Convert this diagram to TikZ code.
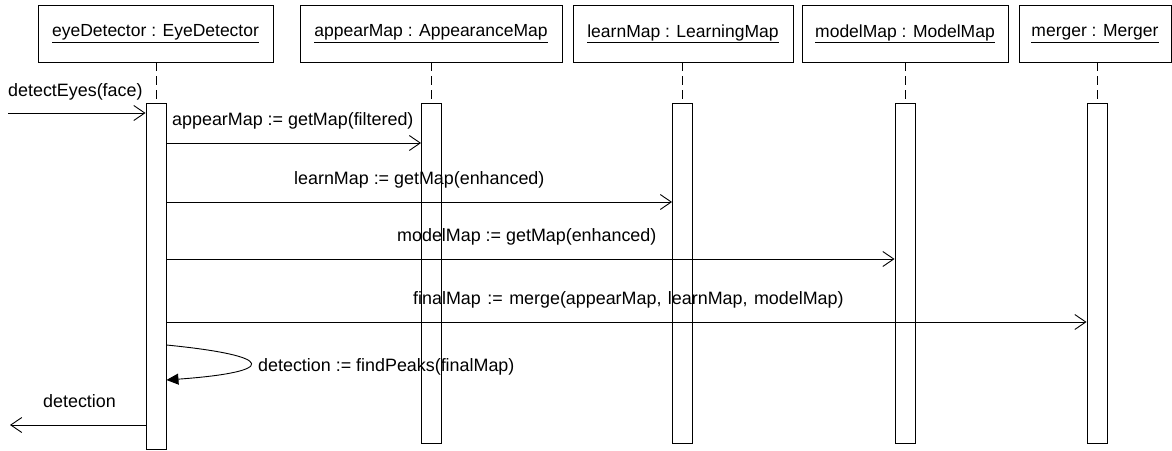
\documentclass[tikz,border=0pt]{standalone}
\usepackage{fontspec}
\setmainfont{Liberation Sans}
\usetikzlibrary{arrows.meta}
\tikzset{
  obj/.style={draw, line width=0.9pt, minimum height=57pt, inner sep=0pt, font=\fontsize{17.5}{21}\selectfont},
  act/.style={draw, fill=white, line width=0.9pt, minimum width=20pt, inner sep=0pt},
  lifeline/.style={line width=0.9pt, dash pattern=on 9pt off 5pt},
  msg/.style={line width=0.9pt, -{Straight Barb[length=11pt,width=15pt,line width=0.9pt]}},
  selfmsg/.style={line width=0.9pt, -{Triangle[length=12pt,width=11pt]}},
  lbl/.style={anchor=base west, inner sep=0pt, font=\fontsize{17.9}{21}\selectfont}
}
\begin{document}
\begin{tikzpicture}[x=1pt,y=-1pt]
\useasboundingbox (0,0) rectangle (1172,450);
% object boxes
\node[obj, minimum width=235pt] (o1) at (155.5,33.5) {\underline{eyeDetector : EyeDetector}};
\node[obj, minimum width=262pt] (o2) at (431,33.5) {\underline{appearMap : AppearanceMap}};
\node[obj, minimum width=220pt] (o3) at (683,33.5) {\underline{learnMap : LearningMap}};
\node[obj, minimum width=206pt] (o4) at (905,33.5) {\underline{modelMap : ModelMap}};
\node[obj, minimum width=152pt] (o5) at (1095,33.5) {\underline{merger : Merger}};
% activations
\node[act, minimum height=346pt] (a1) at (156,276) {};
\node[act, minimum height=340pt] (a2) at (431.5,273) {};
\node[act, minimum height=340pt] (a3) at (682.5,273) {};
\node[act, minimum height=340pt] (a4) at (905,273) {};
\node[act, minimum height=340pt] (a5) at (1097,273) {};
% lifelines
\draw[lifeline] (a1.north |- o1.south) -- (a1.north);
\draw[lifeline] (a2.north |- o2.south) -- (a2.north);
\draw[lifeline] (a3.north |- o3.south) -- (a3.north);
\draw[lifeline] (a4.north |- o4.south) -- (a4.north);
\draw[lifeline] (a5.north |- o5.south) -- (a5.north);
% message levels
\coordinate (in) at (8,113);
\coordinate (y1) at (0,143);
\coordinate (y2) at (0,202);
\coordinate (y3) at (0,259);
\coordinate (y4) at (0,322);
\coordinate (out) at (10,425);
\coordinate (s1) at (0,345);
\coordinate (s2) at (0,380);
% messages
\draw[msg] (in) -- (a1.west |- in);
\node[lbl] (l0) at (8,96) {detectEyes(face)};
\draw[msg] (a1.east |- y1) -- (a2.west |- y1);
\node[lbl] (l1) at (172,125) {appearMap := getMap(filtered)};
\draw[msg] (a1.east |- y2) -- (a3.west |- y2);
\node[lbl] (l2) at (294,184) {learnMap := getMap(enhanced)};
\draw[msg] (a1.east |- y3) -- (a4.west |- y3);
\node[lbl] (l3) at (397,241) {modelMap := getMap(enhanced)};
\draw[msg] (a1.east |- y4) -- (a5.west |- y4);
\node[lbl] (l4) at (413,304) {\spaceskip=6.5pt finalMap := merge(appearMap, learnMap, modelMap)};
\draw[selfmsg] (a1.east |- s1) .. controls (278,356) and (278,372) .. (a1.east |- s2);
\node[lbl] (l5) at (258,371) {detection := findPeaks(finalMap)};
\draw[msg] (a1.west |- out) -- (out);
\node[lbl] (l6) at (43,407) {detection};
\end{tikzpicture}
\end{document}
